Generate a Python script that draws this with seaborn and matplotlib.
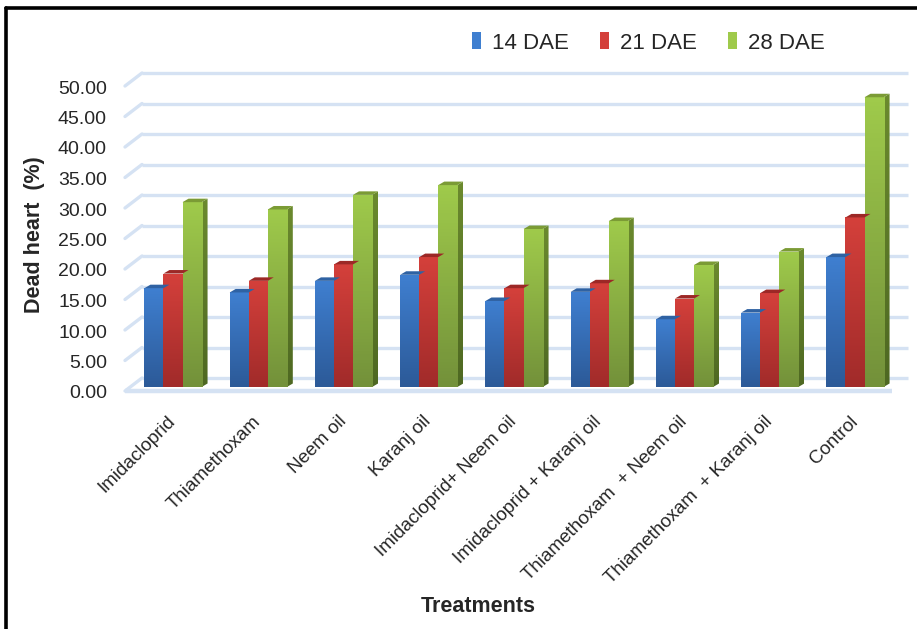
import numpy as np
import pandas as pd
import matplotlib
matplotlib.use("Agg")
import matplotlib.pyplot as plt
import seaborn as sns
from matplotlib.patches import Polygon, Patch
from matplotlib.lines import Line2D
from matplotlib.colors import LinearSegmentedColormap
from matplotlib.transforms import ScaledTranslation

# Dead heart (%) per treatment at 14, 21 and 28 days after emergence
treatments = [
    "Imidacloprid", "Thiamethoxam", "Neem oil", "Karanj oil",
    "Imidacloprid+ Neem oil", "Imidacloprid + Karanj oil",
    "Thiamethoxam  + Neem oil", "Thiamethoxam  + Karanj oil", "Control",
]
dae_14 = [16.2, 15.5, 17.4, 18.4, 14.1, 15.6, 11.1, 12.2, 21.3]
dae_21 = [18.6, 17.4, 20.1, 21.3, 16.2, 17.0, 14.5, 15.4, 27.8]
dae_28 = [30.3, 29.1, 31.5, 33.1, 25.9, 27.2, 20.0, 22.2, 47.5]
series = ["14 DAE", "21 DAE", "28 DAE"]
y_ticks = [0, 5, 10, 15, 20, 25, 30, 35, 40, 45, 50]

df = pd.DataFrame({
    "Treatment": treatments * 3,
    "Stage": np.repeat(series, len(treatments)),
    "Value": dae_14 + dae_21 + dae_28,
})

# front (top, bottom), side (top, bottom) and top-face colours per series
shades = {
    "14 DAE": ("#3f7fd0", "#2c5a98", "#2a568f", "#1f4070", "#2f62a3"),
    "21 DAE": ("#d4403b", "#a12b2a", "#8c2421", "#6e1a18", "#9c2826"),
    "28 DAE": ("#9fca4b", "#73913a", "#6b8a2e", "#4e6822", "#7b9b35"),
}
front = [shades[s][0] for s in series]

sns.set_style("white")
plt.rcParams["font.family"] = ["Liberation Sans", "DejaVu Sans"]

W, H = 917, 629
fig = plt.figure(figsize=(W / 100, H / 100), dpi=100)
ax_left, ax_right, ax_top, ax_bot = 125, 908, 60, 387
ax = fig.add_axes([ax_left / W, 1 - ax_bot / H,
                   (ax_right - ax_left) / W, (ax_bot - ax_top) / H])

px_per_unit = 6.1
ymax = (ax_bot - ax_top) / px_per_unit
spacing = 85.25
first_center = 173
xmin = (ax_left - first_center) / spacing
xmax = (ax_right - first_center) / spacing

sns.barplot(data=df, x="Treatment", y="Value", hue="Stage", order=treatments,
            hue_order=series, palette=front, width=0.67, ax=ax,
            legend=False, zorder=3, linewidth=0)
ax.set_xlim(xmin, xmax)
ax.set_ylim(0, ymax)

# pixel -> data conversion factors
dx_px = (xmax - xmin) / (ax_right - ax_left)
dy_px = ymax / (ax_bot - ax_top)

grid_col = "#d5e2f3"
back_dx, back_dy = 17, 9     # back wall offset (pixels)
front_drop = 4               # floor front edge below bar base (pixels)

for v in y_ticks:
    yb = v + back_dy * dy_px
    yf = v - front_drop * dy_px
    ax.plot([xmin + back_dx * dx_px, xmax], [yb, yb], color=grid_col,
            lw=2.4, zorder=1, clip_on=False, solid_capstyle="butt")
    ax.plot([xmin, xmin + back_dx * dx_px], [yf, yb], color=grid_col,
            lw=2.4, zorder=1, clip_on=False)
# floor front edge
yf0 = -front_drop * dy_px
ax.plot([xmin, xmax - 16 * dx_px], [yf0, yf0], color=grid_col, lw=3.2,
        zorder=1, clip_on=False, solid_capstyle="butt")

# shaded 3D bars
depth_x, depth_y = 6 * dx_px, 3.5 * dy_px
n = len(treatments)
bars = [p for p in ax.patches if p.get_height() > 0]
grad = np.linspace(0, 1, 64).reshape(-1, 1)
for i, bar in enumerate(bars):
    s = series[i // n]
    ftop, fbot, stop, sbot, tcol = shades[s]
    x0, w, h = bar.get_x(), bar.get_width(), bar.get_height()
    x1 = x0 + w
    bar.set_facecolor("none")
    cmap = LinearSegmentedColormap.from_list("f", [fbot, ftop])
    im = ax.imshow(grad, cmap=cmap, aspect="auto", origin="lower",
                   extent=[x0, x1, 0, h], zorder=3)
    im.set_clip_path(bar)
    side = Polygon([[x1, 0], [x1 + depth_x, depth_y], [x1 + depth_x, h + depth_y], [x1, h]],
                   closed=True, zorder=2.9, lw=0, facecolor="none")
    ax.add_patch(side)
    scmap = LinearSegmentedColormap.from_list("s", [sbot, stop])
    ims = ax.imshow(grad, cmap=scmap, aspect="auto", origin="lower",
                    extent=[x1, x1 + depth_x, 0, h + depth_y], zorder=2.9)
    ims.set_clip_path(side)
    topf = Polygon([[x0, h], [x1, h], [x1 + depth_x, h + depth_y], [x0 + depth_x, h + depth_y]],
                   closed=True, facecolor=tcol, lw=0, zorder=3.2)
    ax.add_patch(topf)
ax.set_xlim(xmin, xmax)
ax.set_ylim(0, ymax)

# axes decoration
for sp in ax.spines.values():
    sp.set_visible(False)
ax.set_xlabel("")
ax.set_ylabel("")
ax.set_yticks(y_ticks)
ax.set_yticklabels([f"{v:.2f}" for v in y_ticks], fontsize=14)
ax.tick_params(axis="y", length=0, pad=13)
for lab in ax.get_yticklabels():
    lab.set_transform(lab.get_transform() + ScaledTranslation(0, -5 / 100, fig.dpi_scale_trans))
ax.set_xticks(range(n))
ax.set_xticklabels(treatments, fontsize=13.5, rotation=45, ha="right",
                   va="center", rotation_mode="anchor")
ax.tick_params(axis="x", length=0, pad=23)

fig.text(35 / W, 1 - 235 / H, "Dead heart  (%)", rotation=90, fontsize=15.5,
         fontweight="bold", ha="center", va="center")
fig.text(478 / W, 1 - 607 / H, "Treatments", fontsize=15.5, fontweight="bold",
         ha="center", va="center")

handles = [Patch(facecolor=shades[s][0], edgecolor="none") for s in series]
fig.legend(handles, series, loc="center", bbox_to_anchor=(648 / W, 1 - 43 / H),
           ncol=3, frameon=False, fontsize=16, handlelength=0.4, handleheight=0.8,
           handletextpad=0.5, columnspacing=1.4)

# outer frame
fig.add_artist(Line2D([6 / W, 1], [1 - 7.5 / H, 1 - 7.5 / H], color="black", lw=2.6,
                      transform=fig.transFigure))
fig.add_artist(Line2D([6 / W, 6 / W], [0, 1 - 7.5 / H], color="black", lw=2.6,
                      transform=fig.transFigure))

fig.savefig("out.png", dpi=100)
